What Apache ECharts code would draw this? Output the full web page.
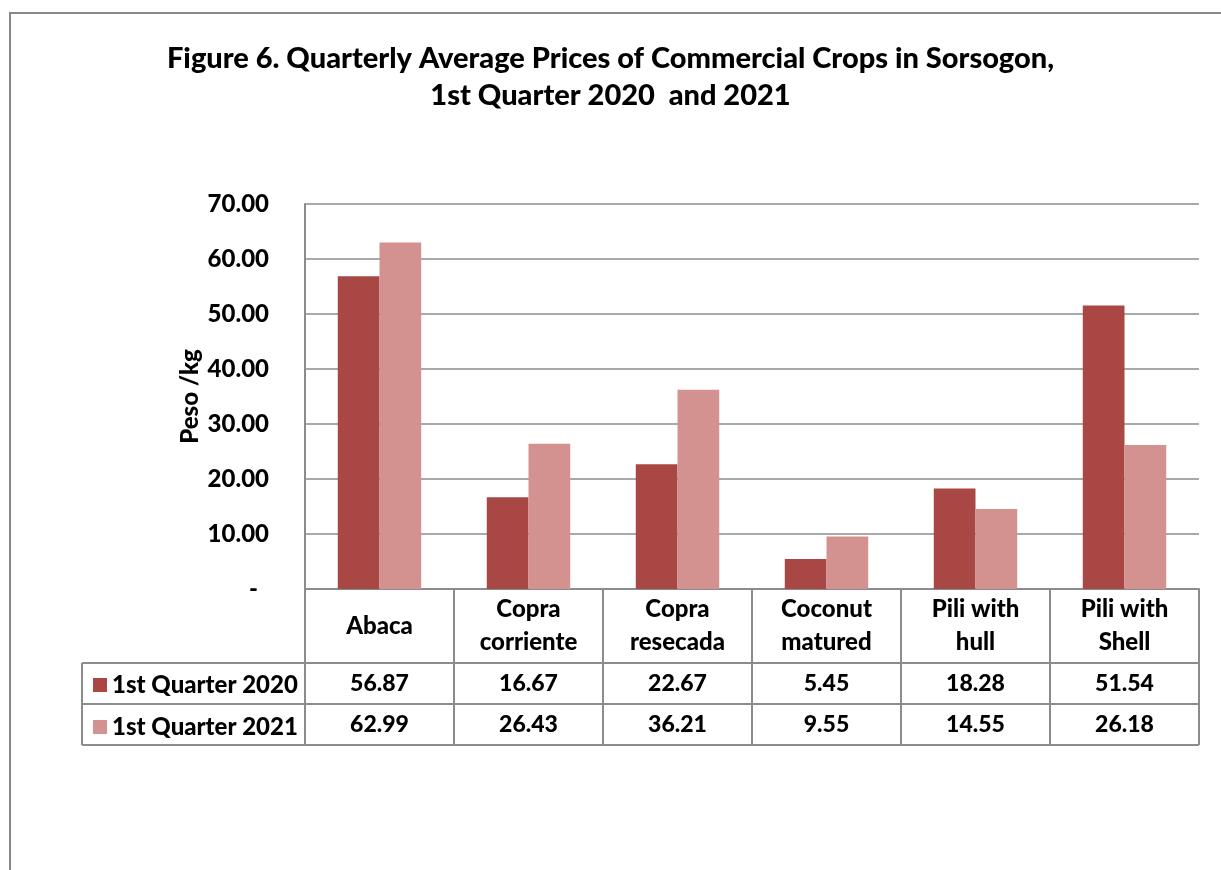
<!DOCTYPE html>
<html>
<head>
<meta charset="utf-8">
<script src="https://cdn.jsdelivr.net/npm/echarts@6/dist/echarts.min.js"></script>
<style>
html,body{margin:0;padding:0;background:#fff;}
#chart{width:1221px;height:870px;}
</style>
</head>
<body>
<div id="chart"></div>
<script>
const titleLines = ['Figure 6. Quarterly Average Prices of Commercial Crops in Sorsogon,', '1st Quarter 2020  and 2021'];
const categories = ['Abaca', 'Copra\ncorriente', 'Copra\nresecada', 'Coconut\nmatured', 'Pili with\nhull', 'Pili with\nShell'];
const seriesNames = ['1st Quarter 2020', '1st Quarter 2021'];
const values2020 = [56.87, 16.67, 22.67, 5.45, 18.28, 51.54];
const values2021 = [62.99, 26.43, 36.21, 9.55, 14.55, 26.18];
const yMin = 0, yMax = 70, yStep = 10;
const yAxisName = 'Peso /kg';

const colors = ['#A94744', '#D39190'];
const FONT = 'Lato, "Open Sans", sans-serif';
const W = 900;
const LINE = '#8c8c8c';

const GRID = {left: 305, right: 22, top: 204, bottom: 281};
const HEADER_H = 74, ROW_H = 41, LEGEND_LEFT = 82;

const chart = echarts.init(document.getElementById('chart'));
const option = {
  animation: false,
  backgroundColor: '#fff',
  color: colors,
  title: {
    text: titleLines.join('\n'),
    left: 'center', top: 35,
    textStyle: {fontFamily: FONT, fontWeight: W, fontSize: 29, lineHeight: 37, color: '#000'}
  },
  legend: {
    orient: 'vertical',
    left: 88, top: 668,
    itemWidth: 14, itemHeight: 14, itemGap: 18,
    icon: 'rect',
    data: seriesNames,
    textStyle: {fontFamily: FONT, fontWeight: W, fontSize: 24, lineHeight: 22, color: '#000'}
  },
  grid: GRID,
  xAxis: {
    type: 'category',
    data: categories,
    axisLine: {lineStyle: {color: LINE, width: 2}},
    axisTick: {show: true, length: HEADER_H + 2 * ROW_H, lineStyle: {color: LINE, width: 2}},
    axisLabel: {
      interval: 0, margin: HEADER_H / 2, verticalAlign: 'middle',
      fontFamily: FONT, fontWeight: W, fontSize: 24, lineHeight: 33, color: '#000'
    }
  },
  yAxis: {
    type: 'value',
    min: yMin, max: yMax, interval: yStep,
    name: yAxisName, nameLocation: 'middle', nameGap: 103, nameRotate: 90,
    nameMoveOverlap: false,
    nameTextStyle: {fontFamily: FONT, fontWeight: W, fontSize: 24, color: '#000'},
    axisLine: {show: true, lineStyle: {color: LINE, width: 2}},
    axisTick: {show: false},
    splitLine: {lineStyle: {color: LINE, width: 1.5}},
    axisLabel: {
      margin: 36,
      fontFamily: FONT, fontWeight: W, fontSize: 24, color: '#000',
      formatter: v => v === 0 ? '{z|-}' : v.toFixed(2),
      rich: {z: {fontFamily: FONT, fontWeight: W, fontSize: 24, color: '#000', padding: [0, 11, 0, 0]}}
    }
  },
  series: [
    {name: seriesNames[0], type: 'bar', data: values2020, barGap: '0%', barCategoryGap: '44%'},
    {name: seriesNames[1], type: 'bar', data: values2021, barGap: '0%', barCategoryGap: '44%'}
  ]
};
chart.setOption(option);

// build table frame from grid geometry
const origin = chart.convertToPixel({gridIndex: 0}, [0, 0]);
const c0 = chart.convertToPixel({xAxisIndex: 0}, 0);
const c1 = chart.convertToPixel({xAxisIndex: 0}, 1);
const band = c1 - c0;
const xRight = c0 + band * (categories.length - 0.5);
const yAxis0 = origin[1];
const yHead = yAxis0 + HEADER_H;
const g = [];
g.push({type: 'rect', shape: {x: 10, y: 13, width: 1300, height: 1000}, style: {fill: null, stroke: '#888', lineWidth: 2}, silent: true, z: 0});
[yHead, yHead + ROW_H, yHead + 2 * ROW_H].forEach(y => {
  g.push({type: 'line', shape: {x1: LEGEND_LEFT, y1: y, x2: xRight, y2: y}, style: {stroke: LINE, lineWidth: 2}, z: 10});
});
g.push({type: 'line', shape: {x1: LEGEND_LEFT, y1: yHead, x2: LEGEND_LEFT, y2: yHead + 2 * ROW_H}, style: {stroke: LINE, lineWidth: 2}, z: 10});
[values2020, values2021].forEach((arr, r) => {
  arr.forEach((v, i) => {
    const cx = chart.convertToPixel({xAxisIndex: 0}, i);
    g.push({type: 'text', x: cx, y: yHead + ROW_H * r + ROW_H / 2,
      style: {text: v.toFixed(2), align: 'center', verticalAlign: 'middle', fontFamily: FONT, fontWeight: W, fontSize: 23, fill: '#000'}, z: 10});
  });
});
chart.setOption({graphic: g});
</script>
</body>
</html>
